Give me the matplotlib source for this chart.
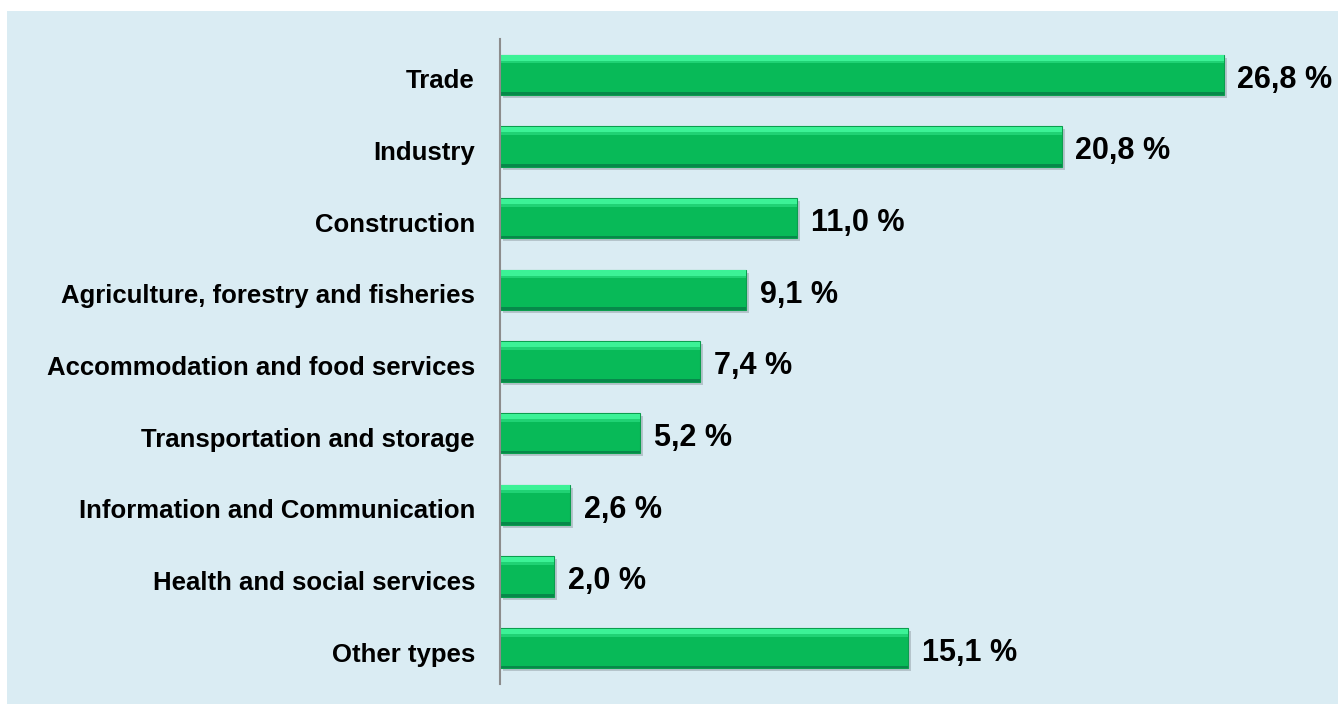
import matplotlib
matplotlib.use('Agg')
import matplotlib.pyplot as plt
import matplotlib.transforms as mtransforms
from matplotlib.patches import Rectangle

categories = [
    'Trade',
    'Industry',
    'Construction',
    'Agriculture, forestry and fisheries',
    'Accommodation and food services',
    'Transportation and storage',
    'Information and Communication',
    'Health and social services',
    'Other types',
]
shares = [26.8, 20.8, 11.0, 9.1, 7.4, 5.2, 2.6, 2.0, 15.1]
value_labels = ['26,8 %', '20,8 %', '11,0 %', '9,1 %', '7,4 %',
                '5,2 %', '2,6 %', '2,0 %', '15,1 %']

plt.rcParams['font.family'] = ['Liberation Sans', 'DejaVu Sans']

fig = plt.figure(figsize=(13.38, 7.04), dpi=100)
fig.patch.set_facecolor('white')
# light blue panel behind the chart
fig.patches.append(Rectangle((7 / 1338, 0), 1, 1 - 11 / 704,
                             transform=fig.transFigure, facecolor='#daecf3',
                             edgecolor='none', linewidth=0, zorder=-10))

ax = fig.add_axes([500 / 1338, 20 / 704, 810 / 1338, 645 / 704])
ax.set_facecolor('none')
ax.set_zorder(5)

y = list(range(len(categories)))
h = 0.56

# drop shadow
shadow = mtransforms.offset_copy(ax.transData, fig=fig, x=3, y=-3, units='dots')
ax.barh(y, shares, height=h, color='#97a4aa', alpha=0.55, transform=shadow, zorder=1)
# main bar
ax.barh(y, shares, height=h, color='#08ba58', edgecolor='#0b9e4e', linewidth=0.8, zorder=2)
# soft bevel: light strip along the top, darker line at the bottom
ax.barh([v - h / 2 + 0.045 for v in y], shares, height=0.07, color='#3cf296', zorder=3)
ax.barh([v - h / 2 + 0.1 for v in y], shares, height=0.04, color='#20d274', zorder=3)
ax.barh([v + h / 2 - 0.018 for v in y], shares, height=0.036, color='#07894a', zorder=3)

for yi, v, lab in zip(y, shares, value_labels):
    ax.annotate(lab, (v, yi), xytext=(10, -3.5), textcoords='offset points',
                va='center', ha='left', fontsize=22, fontweight='bold', color='black')

ax.set_yticks(y)
ax.set_yticklabels(categories, fontsize=18.5, fontweight='bold')
ax.tick_params(axis='y', length=0, pad=18)
# nudge category labels slightly below the bar centre, as in the original
shift = mtransforms.ScaledTranslation(0, -4 / 100, fig.dpi_scale_trans)
for lbl in ax.get_yticklabels():
    lbl.set_transform(lbl.get_transform() + shift)
ax.tick_params(axis='x', bottom=False, labelbottom=False)
ax.set_ylim(len(categories) - 0.5, -0.5)
ax.set_xlim(0, 30)
for s in ['top', 'right', 'bottom']:
    ax.spines[s].set_visible(False)
ax.spines['left'].set_color('#8c8c8c')
ax.spines['left'].set_linewidth(1.5)
ax.spines['left'].set_zorder(4)

fig.savefig('out.png', dpi=100)
